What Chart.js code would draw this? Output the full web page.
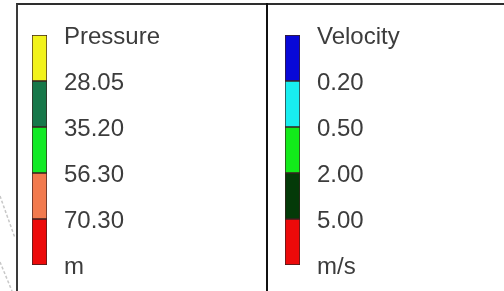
<!DOCTYPE html>
<html lang="en">
<head>
    <meta charset="UTF-8">
    <title>Pressure / Velocity legend</title>
    <script src="https://cdn.jsdelivr.net/npm/chart.js@4"></script>
    <style>
        body {
            margin: 0;
            background-color: #ffffff;
            font-family: Arial, "Liberation Sans", sans-serif;
        }
        .stage {
            position: relative;
            width: 504px;
            height: 291px;
            overflow: hidden;
        }
        .frame {
            position: absolute;
            left: 16px;
            top: 3px;
            width: 500px;
            height: 300px;
            border-top: 2px solid #2e2e2e;
            border-left: 2px solid #3a3a3a;
        }
        .divider {
            position: absolute;
            left: 266px;
            top: 3px;
            width: 2px;
            height: 300px;
            background-color: #111111;
        }
        canvas {
            position: absolute;
            top: 0;
        }
        #bg {
            position: absolute;
            left: 0;
            top: 0;
        }
    </style>
</head>
<body>
    <div class="stage">
        <svg id="bg" width="16" height="291">
            <line x1="0" y1="196" x2="15" y2="238" stroke="#c8c8c8" stroke-width="1.5" stroke-dasharray="3,2"/>
            <line x1="0" y1="262" x2="12" y2="291" stroke="#c8c8c8" stroke-width="1.5" stroke-dasharray="3,2"/>
        </svg>
        <div class="frame"></div>
        <div class="divider"></div>
        <canvas id="pressureChart" width="250" height="291" style="left:0"></canvas>
        <canvas id="velocityChart" width="250" height="291" style="left:254px"></canvas>
    </div>

    <script>
        // legend classes, listed top to bottom
        const pressureTitle = 'Pressure';
        const pressureUnit = 'm';
        const pressureBreaks = [28.05, 35.20, 56.30, 70.30];
        const pressureColors = ['#f2f21a', '#17784a', '#12ea25', '#f27a4e', '#ec0a0a'];

        const velocityTitle = 'Velocity';
        const velocityUnit = 'm/s';
        const velocityBreaks = [0.20, 0.50, 2.00, 5.00];
        const velocityColors = ['#0808d8', '#18eef0', '#12ea1a', '#043a08', '#ec0a0a'];

        // every band has the same height in the legend
        const bandHeights = [1, 1, 1, 1, 1];

        function makeLegend(canvasId, title, unit, breaks, colors, barLeft, barRight, labelPad) {
            const tickLabels = [title].concat(breaks.map(b => b.toFixed(2)), [unit]);
            const canvas = document.getElementById(canvasId);
            // chart.js stacks from the bottom, so reverse the top-to-bottom lists
            const datasets = colors.slice().reverse().map((c, i) => ({
                data: [bandHeights[bandHeights.length - 1 - i]],
                backgroundColor: c,
                borderColor: '#3a2020',
                borderWidth: 1,
                borderSkipped: false,
                barPercentage: 1,
                categoryPercentage: 1
            }));
            return new Chart(canvas.getContext('2d'), {
                type: 'bar',
                data: { labels: [title], datasets: datasets },
                options: {
                    responsive: false,
                    animation: false,
                    layout: { padding: { left: barLeft, top: 35, bottom: 26, right: 0 } },
                    plugins: { legend: { display: false }, tooltip: { enabled: false } },
                    scales: {
                        x: { display: false, stacked: true },
                        y: {
                            stacked: true,
                            position: 'right',
                            min: 0,
                            max: tickLabels.length - 1,
                            grid: { display: false, drawTicks: false },
                            border: { display: false },
                            afterFit: function(scale) {
                                // fixed axis width; the layout padding sets the bar's ends
                                scale.width = canvas.width - barRight;
                                scale.paddingTop = 0;
                                scale.paddingBottom = 0;
                            },
                            ticks: {
                                stepSize: 1,
                                padding: labelPad,
                                labelOffset: 2,
                                color: '#3c3c3c',
                                font: { family: 'Arial, "Liberation Sans", sans-serif', size: 24 },
                                callback: function(value) {
                                    return tickLabels[tickLabels.length - 1 - value];
                                }
                            }
                        }
                    }
                }
            });
        }

        makeLegend('pressureChart', pressureTitle, pressureUnit, pressureBreaks, pressureColors, 32, 47, 17);
        makeLegend('velocityChart', velocityTitle, velocityUnit, velocityBreaks, velocityColors, 31, 46, 17);
    </script>
</body>
</html>
